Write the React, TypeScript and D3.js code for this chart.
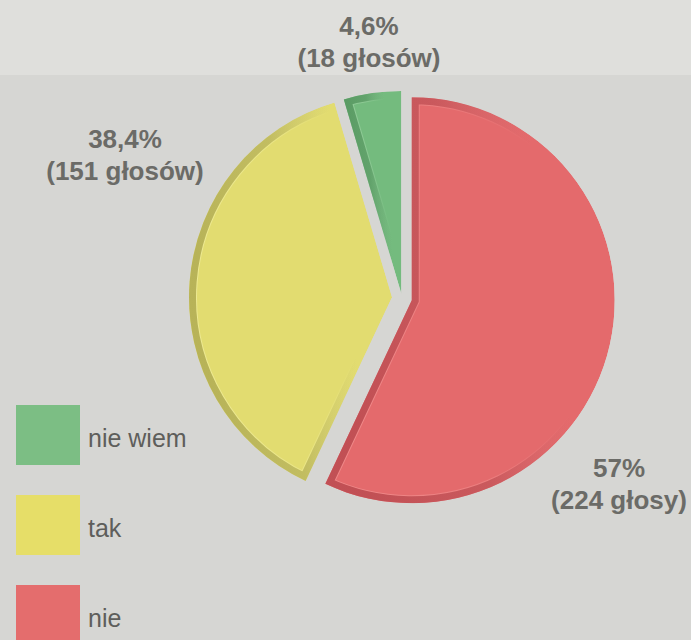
import React from "react";
import * as d3 from "d3";

// answers, in pie order (clockwise from 12 o'clock)
const answers = ["nie", "tak", "nie wiem"];
const votes = [224, 151, 18];
const percentLabels = ["57%", "38,4%", "4,6%"];
const voteLabels = ["(224 głosy)", "(151 głosów)", "(18 głosów)"];
const legendOrder = ["nie wiem", "tak", "nie"];

const fills: Record<string, string> = {
  nie: "#e46a6c",
  tak: "#e2dc70",
  "nie wiem": "#74bb7e",
};
const edges: Record<string, string> = {
  nie: "#bf4d52",
  tak: "#b5b055",
  "nie wiem": "#55975f",
};
const highlights: Record<string, string> = {
  nie: "#f08a8a",
  tak: "#eeea94",
  "nie wiem": "#98cf9e",
};
const legendFills: Record<string, string> = {
  nie: "#e46d6d",
  tak: "#e6de68",
  "nie wiem": "#7cbe84",
};

const W = 691;
const H = 640;
const cx = 402;
const cy = 298;
const R = 203;
const explode: Record<string, number> = { nie: 10, tak: 10, "nie wiem": 4 };

// label anchor points (baseline of the first line)
const labelPos: Record<string, [number, number]> = {
  nie: [619, 477],
  tak: [125, 148],
  "nie wiem": [369, 35],
};

const textColor = "#6b6b67";

export default function App() {
  const pie = d3
    .pie<number>()
    .sort(null)
    .value((d) => d);
  const arcs = pie(votes);
  const arc = d3
    .arc<d3.PieArcDatum<number>>()
    .innerRadius(0)
    .outerRadius(R);

  const legendY = d3
    .scalePoint<string>()
    .domain(legendOrder)
    .range([405, 585]);

  return (
    <svg
      width={W}
      height={H}
      style={{ position: "absolute", left: 0, top: 0 }}
      fontFamily="'Liberation Sans', Arial, sans-serif"
    >
      <defs>
        {answers.map((a, i) => (
          <React.Fragment key={a}>
            <clipPath id={`clip${i}`}>
              <path d={arc(arcs[i]) || ""} />
            </clipPath>
            <linearGradient id={`dark${i}`} x1="0" y1="0.2" x2="1" y2="0">
              <stop offset="0%" stopColor={edges[a]} stopOpacity={0.95} />
              <stop offset="40%" stopColor={edges[a]} stopOpacity={0.75} />
              <stop offset="70%" stopColor={edges[a]} stopOpacity={0} />
            </linearGradient>
            <linearGradient id={`light${i}`} x1="0" y1="0.2" x2="1" y2="0">
              <stop offset="0%" stopColor={highlights[a]} stopOpacity={0.9} />
              <stop offset="40%" stopColor={highlights[a]} stopOpacity={0.6} />
              <stop offset="70%" stopColor={highlights[a]} stopOpacity={0} />
            </linearGradient>
          </React.Fragment>
        ))}
      </defs>

      <rect x={0} y={0} width={W} height={H} fill="#d6d6d3" />
      <rect x={0} y={0} width={W} height={75} fill="#dfdfdc" />

      {arcs.map((d, i) => {
        const a = answers[i];
        const mid = (d.startAngle + d.endAngle) / 2;
        const dx = Math.sin(mid) * explode[a];
        const dy = -Math.cos(mid) * explode[a];
        const p = arc(d) || "";
        return (
          <g key={a} transform={`translate(${cx + dx},${cy + dy})`}>
            <g clipPath={`url(#clip${i})`}>
              <path d={p} fill={fills[a]} />
              <path d={p} fill="none" stroke={`url(#light${i})`} strokeWidth={16} />
              <path d={p} fill="none" stroke={`url(#dark${i})`} strokeWidth={14} />
            </g>
          </g>
        );
      })}

      {answers.map((a, i) => {
        const [lx, ly] = labelPos[a];
        return (
          <text
            key={a}
            x={lx}
            y={ly}
            textAnchor="middle"
            fontSize={26}
            fontWeight="bold"
            fill={textColor}
          >
            <tspan x={lx} y={ly}>
              {percentLabels[i]}
            </tspan>
            <tspan x={lx} y={ly + 32}>
              {voteLabels[i]}
            </tspan>
          </text>
        );
      })}

      {legendOrder.map((a) => {
        const y = legendY(a) || 0;
        return (
          <g key={a}>
            <rect x={16} y={y} width={64} height={60} fill={legendFills[a]} />
            <text
              x={88}
              y={y + 42}
              fontSize={25}
              fontFamily="'Liberation Sans Narrow', 'Liberation Sans', sans-serif"
              fill="#5e5e5b"
            >
              {a}
            </text>
          </g>
        );
      })}
    </svg>
  );
}
